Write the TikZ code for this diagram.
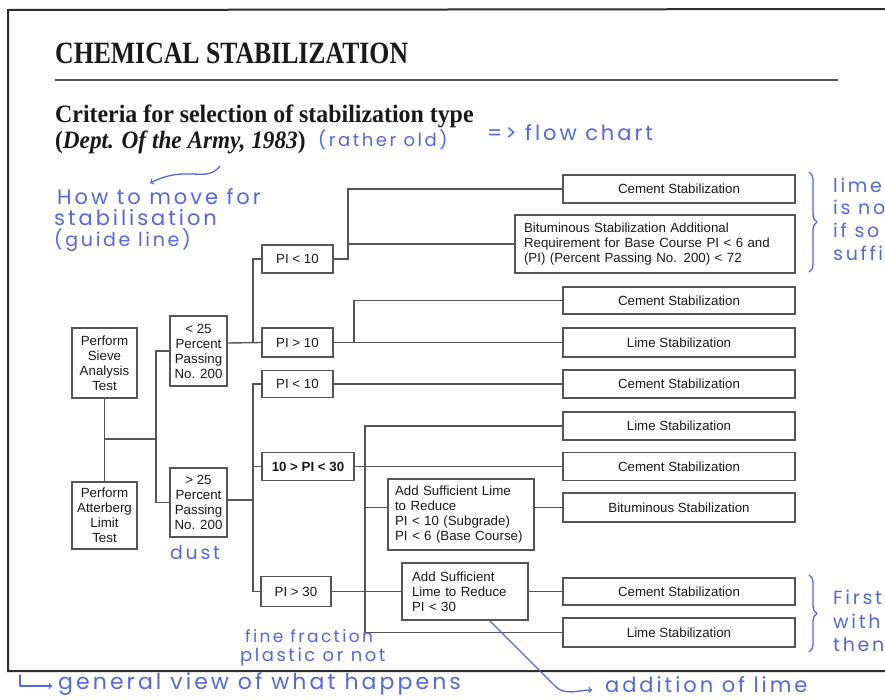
\documentclass[tikz,border=0pt]{standalone}
\usepackage{fontspec}
\setmainfont{Liberation Serif}
\newfontfamily\boxfont{Liberation Sans}
\newfontfamily\handfont[LetterSpace=14]{Poppins}
\usetikzlibrary{decorations.pathreplacing}
\definecolor{ink}{RGB}{84,104,222}
\definecolor{boxline}{RGB}{85,85,85}
\definecolor{frameline}{RGB}{45,45,45}
\definecolor{printed}{RGB}{25,25,25}
\newcommand{\handsize}[1]{\handfont\fontsize{#1}{22}\selectfont}

\begin{document}
\begin{tikzpicture}[x=1pt,y=-1pt,
	box/.style={draw=boxline,line width=1.4pt,fill=white,text=printed,font=\boxfont\fontsize{13.3}{15}\selectfont,align=center,inner sep=2pt},
	wide/.style={box,minimum width=232pt},
	link/.style={boxline,line width=1.4pt},
	hand/.style={text=ink,font=\handsize{19},anchor=west,inner sep=0pt},
	note/.style={ink,line width=1.3pt,line cap=round,line join=round}]
	\fill[white] (0,0) rectangle (885,699);
	\useasboundingbox (0,0) rectangle (885,699);
	\draw[frameline,line width=2pt] (885,9) -- (8,10) -- (8,671) -- (885,671);
	\node[anchor=base west,inner sep=0pt,text=printed,font=\bfseries\fontsize{31}{34}\selectfont] (title)at(55,63) {\scalebox{0.83}[1]{CHEMICAL STABILIZATION}};
	\draw[boxline,line width=1.2pt] (55,80) -- (838,80);
	\node[anchor=base west,inner sep=0pt,text=printed,font=\bfseries\fontsize{25}{28}\selectfont] (sub1)at(55,122) {\scalebox{0.955}[1]{Criteria for selection of stabilization type}};
	\node[anchor=base west,inner sep=0pt,text=printed,font=\bfseries\fontsize{25}{28}\selectfont] (sub2)at(55,148) {\scalebox{0.93}[1]{(\textit{Dept. Of the Army, 1983})}};
	\node[box,minimum width=65pt,minimum height=70pt] (sieve)at(104.5,363) {Perform\\Sieve\\Analysis\\Test};
	\node[box,minimum width=65pt,minimum height=67pt] (atter)at(104.5,515.5) {Perform\\Atterberg\\Limit\\Test};
	\node[box,minimum width=57pt,minimum height=70pt] (lt25)at(198.5,351) {< 25\\Percent\\Passing\\No. 200};
	\node[box,minimum width=57pt,minimum height=69pt] (gt25)at(198.5,502.5) {> 25\\Percent\\Passing\\No. 200};
	\node[box,minimum width=71pt,minimum height=28pt] (pia)at(297.5,259) {PI < 10};
	\node[box,minimum width=71pt,minimum height=29pt] (pib)at(297.5,342.5) {PI > 10};
	\node[box,minimum width=71pt,minimum height=27pt] (pic)at(297.5,384) {PI < 10};
	\node[box,minimum width=92pt,minimum height=28pt,font=\boxfont\bfseries\fontsize{13.3}{15}\selectfont] (pid)at(308,466.5) {10 > PI < 30};
	\node[box,minimum width=70pt,minimum height=30pt] (pie)at(296,591.5) {PI > 30};
	\node[wide,minimum height=28pt] (cem1)at(679,189) {Cement Stabilization};
	\node[box,minimum width=280pt,minimum height=58pt,text width=262pt,align=left] (bit1)at(655,244) {Bituminous Stabilization Additional\\Requirement for Base Course PI < 6 and\\(PI) (Percent Passing No. 200) < 72};
	\node[wide,minimum height=27pt] (cem2)at(679,300.5) {Cement Stabilization};
	\node[wide,minimum height=29pt] (lim1)at(679,342.5) {Lime Stabilization};
	\node[wide,minimum height=28pt] (cem3)at(679,384) {Cement Stabilization};
	\node[wide,minimum height=28pt] (lim2)at(679,426) {Lime Stabilization};
	\node[wide,minimum height=28pt] (cem4)at(679,466.5) {Cement Stabilization};
	\node[wide,minimum height=29pt] (bit2)at(679,507.5) {Bituminous Stabilization};
	\node[wide,minimum height=27pt] (cem5)at(679,591.5) {Cement Stabilization};
	\node[wide,minimum height=29pt] (lim3)at(679,632.5) {Lime Stabilization};
	\node[box,minimum width=146pt,minimum height=71pt,text width=132pt,align=left] (add1)at(461,514.5) {Add Sufficient Lime\\to Reduce\\PI < 10 (Subgrade)\\PI < 6 (Base Course)};
	\node[box,minimum width=126pt,minimum height=57pt,text width=106pt,align=left] (add2)at(465,591.5) {Add Sufficient\\Lime to Reduce\\PI < 30};
	\coordinate (fork)at(104.5,439);
	\coordinate (split)at(156,439);
	\coordinate (busa)at(253,343);
	\coordinate (busb)at(253,500);
	\coordinate (fa)at(348,259);
	\coordinate (fb)at(354,342.5);
	\coordinate (fc)at(365,466.5);
	\draw[link] (sieve) -- (atter);
	\draw[link] (fork) -- (split);
	\draw[link] (lt25.west) -| (split);
	\draw[link] (gt25.west) -| (split);
	\draw[link] (lt25.east |- busa) -- (pib.west);
	\draw[link] (pia.west) -| (busa);
	\draw[link] (gt25.east |- busb) -- (busb);
	\draw[link] (pic.west) -| (busb);
	\draw[link] (pie.west) -| (busb);
	\draw[link] (pid.west) -- (pid.west -| busb);
	\draw[link] (pia.east) -- (fa) |- (cem1.west);
	\draw[link] (fa) |- (bit1.west);
	\draw[link] (pib.east) -- (lim1.west);
	\draw[link] (fb) |- (cem2.west);
	\draw[link] (pic.east) -- (cem3.west);
	\draw[link] (pid.east) -- (cem4.west);
	\draw[link] (fc) |- (lim2.west);
	\draw[link] (fc) |- (lim3.west);
	\draw[link] (fc |- bit2.west) -- (bit2.west -| add1.west);
	\draw[link] (bit2.west -| add1.east) -- (bit2.west);
	\draw[link] (pie.east) -- (add2.west);
	\draw[link] (add2.east) -- (cem5.west);
	\node[hand,font=\handsize{18}] (old)at(318,140) {(rather old)};
	\node[hand,font=\handsize{21}] (flow)at(487,133) {=> flow chart};
	\coordinate (sq1)at(220,166);
	\coordinate (sq2)at(150,183);
	\draw[note,->] (sq1) .. controls (206,184) and (188,164) .. (sq2);
	\node[hand,font=\handsize{21}] (how1)at(57,197) {How to move for};
	\node[hand,font=\handsize{21}] (how2)at(54,218) {stabilisation};
	\node[hand] (how3)at(54,240) {(guide line)};
	\node[hand] (dust)at(170,553) {dust};
	\node[hand,font=\handsize{17}] (fine1)at(245,636) {fine fraction};
	\node[hand,font=\handsize{18}] (fine2)at(240,657) {plastic or not};
	\coordinate (hk1)at(20,675);
	\coordinate (hk2)at(52,686);
	\draw[note,->] (hk1) |- (hk2);
	\node[hand,font=\handsize{22}] (view)at(58,684) {general view of what happens};
	\coordinate (dg1)at(490,621);
	\coordinate (dg2)at(592,690);
	\draw[note,->] (dg1) -- (555,686) to[out=-45,in=180] (dg2);
	\node[hand,font=\handsize{21}] (lime)at(605,685) {addition of lime};
	\draw[note,decorate,decoration={brace,amplitude=8pt}] (809,172) -- (809,272);
	\node[hand] (r1)at(833,185) {lime};
	\node[hand] (r2)at(833,207) {is no};
	\node[hand] (r3)at(833,230) {if so};
	\node[hand] (r4)at(833,253) {suffi};
	\draw[note,decorate,decoration={brace,amplitude=8pt}] (809,575) -- (809,652);
	\node[hand] (r5)at(833,597) {First};
	\node[hand] (r6)at(833,621) {with};
	\node[hand] (r7)at(833,645) {then};
\end{tikzpicture}
\end{document}
